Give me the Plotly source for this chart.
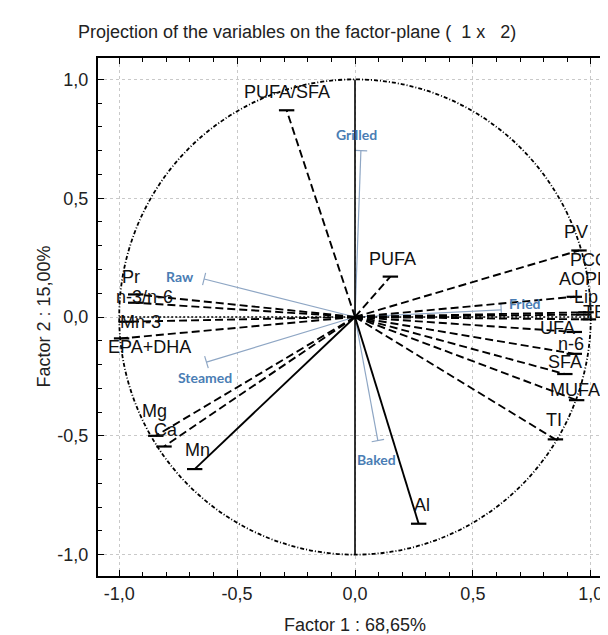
import plotly.graph_objects as go
import math

# ---- data (loadings on factor 1 / factor 2) ----
var_names = ["PUFA/SFA", "PUFA", "PV", "PCO", "AOPP", "Lip", "TBA", "UFA", "n-6", "SFA",
             "MUFA", "TI", "Al", "Mn", "Ca", "Mg", "EPA+DHA", "Mn-3", "n-3/n-6", "Pr"]
var_f1 = [-0.29, 0.15, 0.95, 0.98, 0.93, 0.97, 0.99, 0.93, 0.93, 0.89,
          0.94, 0.85, 0.27, -0.68, -0.81, -0.845, -0.99, -0.97, -0.93, -0.93]
var_f2 = [0.87, 0.17, 0.28, 0.02, 0.085, 0.01, -0.01, -0.063, -0.155, -0.24,
          -0.35, -0.515, -0.87, -0.64, -0.545, -0.50, -0.09, -0.02, 0.06, 0.095]
var_solid = ["Al", "Mn"]

treat_names = ["Raw", "Steamed", "Grilled", "Fried", "Baked"]
treat_f1 = [-0.64, -0.63, 0.025, 0.62, 0.097]
treat_f2 = [0.16, -0.19, 0.70, 0.03, -0.52]

tick_vals = [-1.0, -0.5, 0.0, 0.5, 1.0]
tick_text = ["-1,0", "-0,5", "0,0", "0,5", "1,0"]

# label placement offsets in pixels (dx right, dy up) -- styling only
var_label_shift = {
    "PUFA/SFA": (0, 18), "PUFA": (2, 18), "PV": (-3, 18), "PCO": (3, 52),
    "AOPP": (10, 18), "Lip": (2, 18), "TBA": (12, 7), "UFA": (-17, 4),
    "n-6": (-3, 10), "SFA": (0, 12), "MUFA": (-2, 10), "TI": (-1, 19),
    "Al": (3, 19), "Mn": (3, 19), "Ca": (2, 17), "Mg": (-1, 25),
    "EPA+DHA": (28, -9), "Mn-3": (14, 0), "n-3/n-6": (9, 6), "Pr": (-5, 17),
}
treat_label_shift = {"Raw": (-24, 2), "Steamed": (-1, -15), "Grilled": (-4, 16),
                     "Fried": (24, 6), "Baked": (-1, -19)}

fig = go.Figure()

# unit circle and axes through origin
fig.add_shape(type="circle", x0=-1, y0=-1, x1=1, y1=1,
              line=dict(color="black", width=1.8, dash="4px,2px,1px,2px"), layer="above")
fig.add_shape(type="line", x0=0, y0=-1, x1=0, y1=1, line=dict(color="black", width=1.6))
fig.add_shape(type="line", x0=-1, y0=0, x1=1, y1=0,
              line=dict(color="black", width=1.4, dash="2px,2px"))

# treatment vectors (thin blue)
for n, x, y in zip(treat_names, treat_f1, treat_f2):
    ang = math.degrees(math.atan2(y, x))
    fig.add_trace(go.Scatter(x=[0, x], y=[0, y], mode="lines",
                             line=dict(color="#8ea6c4", width=1.2),
                             hoverinfo="skip", showlegend=False))
    fig.add_trace(go.Scatter(x=[x], y=[y], mode="markers",
                             marker=dict(symbol="line-ns", size=9, angle=-ang,
                                         line=dict(color="#8ea6c4", width=1.2)),
                             hoverinfo="skip", showlegend=False))
    dx, dy = treat_label_shift[n]
    fig.add_annotation(x=x, y=y, text="<b>%s</b>" % n, showarrow=False,
                       xshift=dx, yshift=dy,
                       font=dict(family="Lato, Open Sans, sans-serif", size=14, color="#4a7db4"))

# variable vectors
for n, x, y in zip(var_names, var_f1, var_f2):
    solid = n in var_solid
    fig.add_trace(go.Scatter(x=[0, x], y=[0, y], mode="lines",
                             line=dict(color="black", width=1.9,
                                       dash="solid" if solid else "8px,4px"),
                             hoverinfo="skip", showlegend=False))
    fig.add_trace(go.Scatter(x=[x], y=[y], mode="markers",
                             marker=dict(symbol="line-ew", size=11,
                                         line=dict(color="black", width=2.2)),
                             hoverinfo="skip", showlegend=False))
    dx, dy = var_label_shift[n]
    fig.add_annotation(x=x, y=y, text=n, showarrow=False, xshift=dx, yshift=dy,
                       font=dict(family="Liberation Sans, Arial, sans-serif", size=18, color="#111"))

axis_common = dict(
    range=[-1.09, 1.09], tickvals=tick_vals, ticktext=tick_text,
    showline=True, linecolor="black", linewidth=2, mirror="allticks",
    ticks="inside", ticklen=6, tickcolor="black", tickwidth=1.2,
    minor=dict(dtick=0.1, tick0=0, ticks="inside", ticklen=4, tickcolor="black", showgrid=False),
    showgrid=True, gridcolor="#c9c9c9", griddash="dot", gridwidth=1,
    zeroline=False,
    tickfont=dict(family="Liberation Sans, Arial, sans-serif", size=18, color="#222"),
)

fig.update_xaxes(**axis_common, ticklabelstandoff=0)
fig.update_yaxes(**axis_common, ticklabelstandoff=4)

fig.add_annotation(text="Factor 1 : 68,65%", xref="paper", yref="paper", x=0.5, y=-0.094,
                   yanchor="middle", showarrow=False,
                   font=dict(family="Liberation Sans, Arial, sans-serif", size=18, color="#222"))
fig.add_annotation(text="Factor 2 : 15,00%", xref="paper", yref="paper", x=-0.106, y=0.5,
                   xanchor="center", textangle=-90, showarrow=False,
                   font=dict(family="Liberation Sans, Arial, sans-serif", size=18, color="#222"))

fig.update_layout(
    width=608, height=635,
    margin=dict(l=90, r=2, t=50, b=67),
    paper_bgcolor="white", plot_bgcolor="white",
    title=dict(text="Projection of the variables on the factor-plane (  1 x   2)",
               x=70/608, xanchor="left", xref="container", y=1-24/635, yanchor="middle",
               font=dict(family="Liberation Sans, Arial, sans-serif", size=18, color="#222")),
    showlegend=False,
)

fig.write_html("out.html")
